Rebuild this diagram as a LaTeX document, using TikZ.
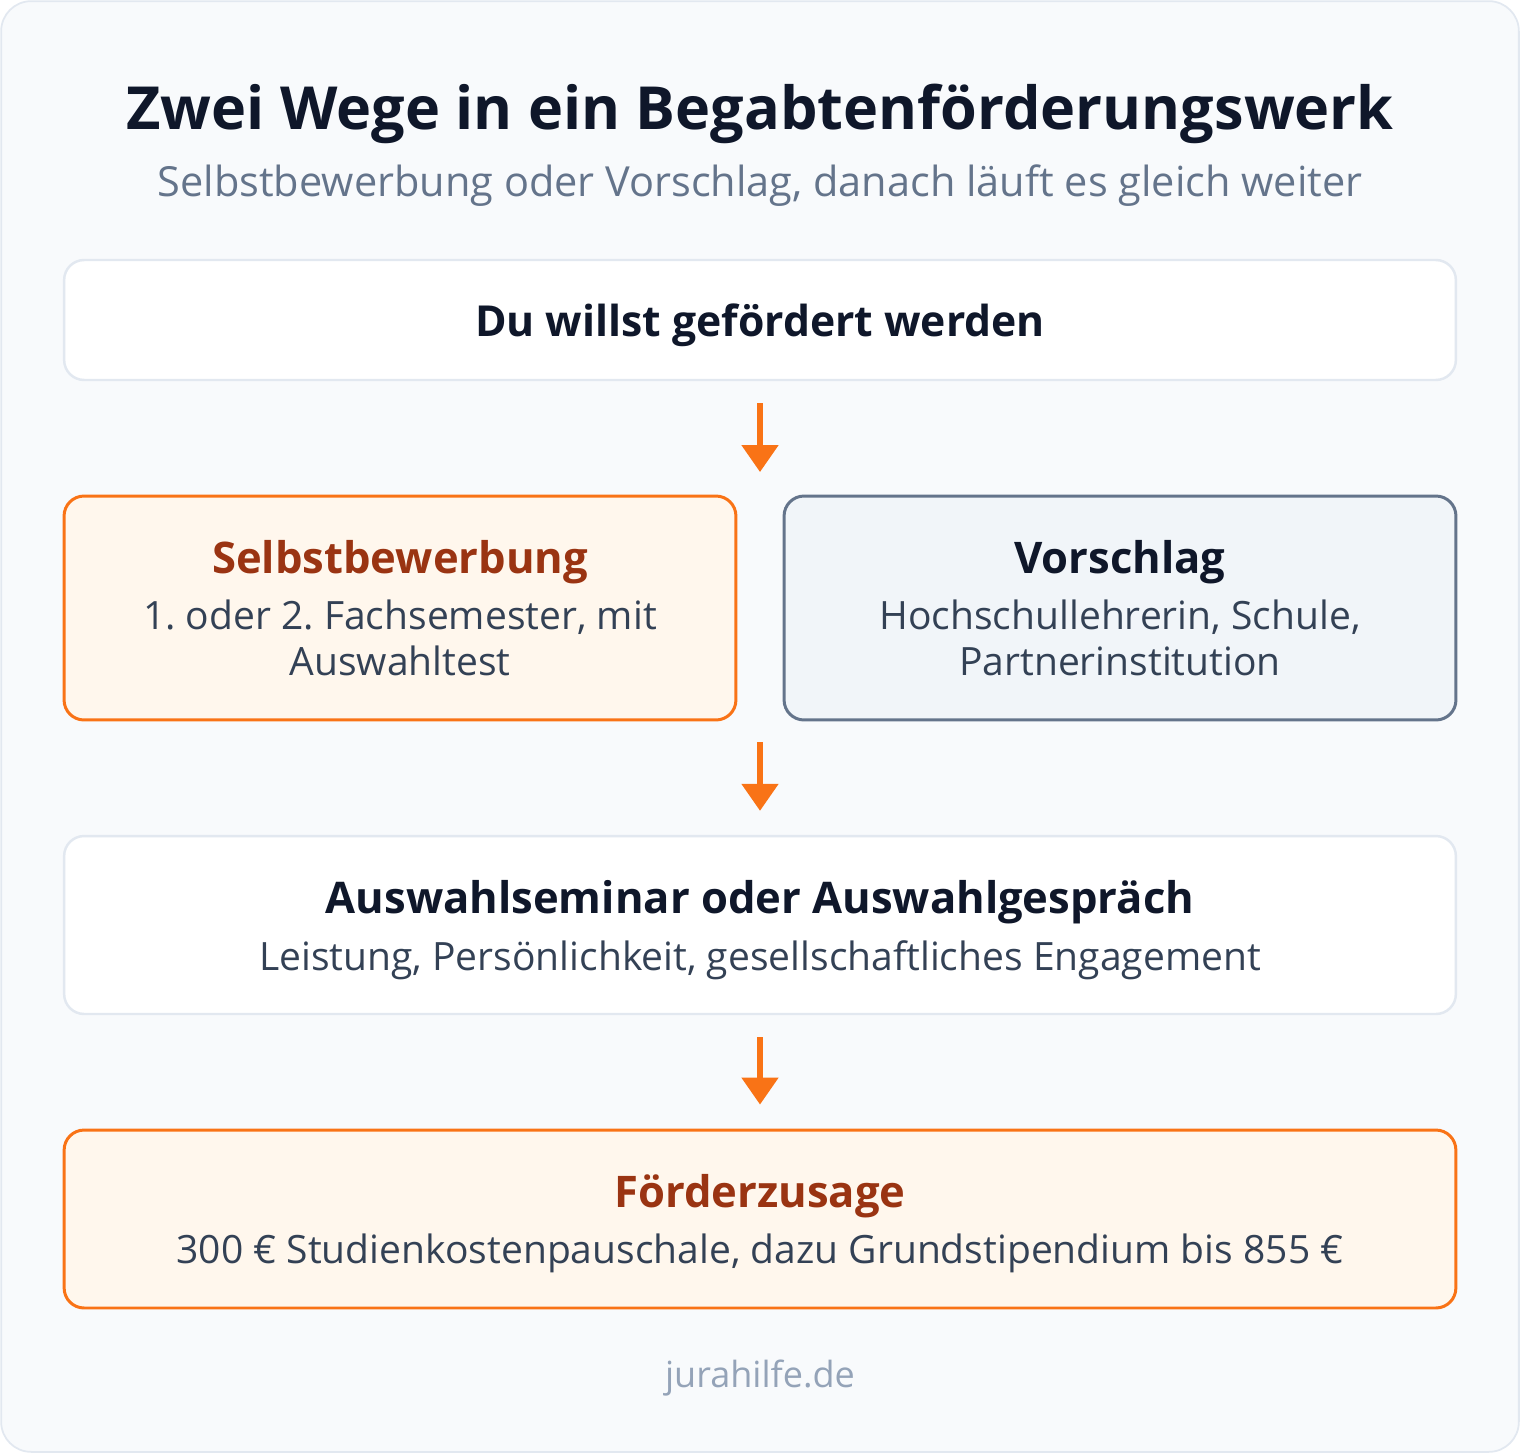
\documentclass[tikz,border=0pt]{standalone}
\usepackage{fontspec}
\setmainfont{Open Sans}
\usetikzlibrary{arrows.meta,positioning}
\usepackage{xcolor}
\frenchspacing

\definecolor{accent}{HTML}{F97316}
\definecolor{accentfill}{HTML}{FFF7ED}
\definecolor{accenttext}{HTML}{9A3412}
\definecolor{slateline}{HTML}{64748B}
\definecolor{slatefill}{HTML}{F1F5F9}
\definecolor{inktext}{HTML}{0F172A}
\definecolor{bodytext}{HTML}{334155}
\definecolor{subtext}{HTML}{64748B}
\definecolor{foottext}{HTML}{94A3B8}
\definecolor{frameline}{HTML}{E2E8F0}
\definecolor{framefill}{HTML}{F8FAFC}

\begin{document}
\begin{tikzpicture}[x=0.02cm, y=-0.02cm,
    box/.style={
        rectangle,
        rounded corners=0.4cm,
        inner sep=0pt,
        draw=frameline,
        fill=white,
        line width=1.4pt
    },
    orangebox/.style={box, draw=accent, fill=accentfill, line width=1.7pt},
    slatebox/.style={box, draw=slateline, fill=slatefill, line width=1.7pt},
    label/.style={anchor=base, inner sep=0pt},
    headline/.style={label, font=\fontsize{24.8}{29}\selectfont\bfseries, text=inktext},
    bodyline/.style={label, font=\fontsize{22.2}{26}\selectfont, text=bodytext},
    flowarrow/.style={-{Triangle[width=0.72cm, length=0.54cm]}, accent, line width=3pt,
        shorten <=0.44cm, shorten >=0.48cm}
]
    \useasboundingbox (0,0) rectangle (1520,1454);

    %frame
    \node (frame) [box, rounded corners=0.6cm, draw=frameline, fill=framefill, line width=1pt,
        minimum width=30.36cm, minimum height=29.02cm, shift={(760,726.5)}] {};

    %title
    \node (title) [label, font=\fontsize{33.8}{40}\selectfont\bfseries, text=inktext, shift={(760,129)}]
    {
        Zwei Wege in ein Begabtenförderungswerk
    };
    \node (subtitle) [label, font=\fontsize{23.6}{28}\selectfont, text=subtext, shift={(760,196)}]
    {
        Selbstbewerbung oder Vorschlag, danach läuft es gleich weiter
    };

    %start
    \node (wish) [box, minimum width=27.84cm, minimum height=2.4cm, shift={(760,320)}] {};
    \node (wish_head) [headline, font=\fontsize{24.3}{29}\selectfont\bfseries, shift={(760,336)}]
    {
        Du willst gefördert werden
    };

    %two ways
    \node (self) [orangebox, minimum width=13.44cm, minimum height=4.48cm, shift={(400,608)}] {};
    \node (self_head) [headline, text=accenttext, shift={(400,573)}]
    {
        Selbstbewerbung
    };
    \node (self_line1) [bodyline, shift={(400,629)}]
    {
        1. oder 2. Fachsemester, mit
    };
    \node (self_line2) [bodyline, shift={(400,675)}]
    {
        Auswahltest
    };

    \node (proposal) [slatebox, minimum width=13.44cm, minimum height=4.48cm, shift={(1120,608)}] {};
    \node (proposal_head) [headline, shift={(1120,573)}]
    {
        Vorschlag
    };
    \node (proposal_line1) [bodyline, shift={(1120,629)}]
    {
        Hochschullehrerin, Schule,
    };
    \node (proposal_line2) [bodyline, shift={(1120,675)}]
    {
        Partnerinstitution
    };

    %selection
    \node (selection) [box, minimum width=27.84cm, minimum height=3.56cm, shift={(760,925)}] {};
    \node (selection_head) [headline, shift={(760,913)}]
    {
        Auswahlseminar oder Auswahlgespräch
    };
    \node (selection_line) [bodyline, shift={(760,970)}]
    {
        Leistung, Persönlichkeit, gesellschaftliches Engagement
    };

    %grant
    \node (grant) [orangebox, minimum width=27.84cm, minimum height=3.56cm, shift={(760,1219)}] {};
    \node (grant_head) [headline, text=accenttext, shift={(760,1207)}]
    {
        Förderzusage
    };
    \node (grant_line) [bodyline, shift={(760,1263)}]
    {
        300 € Studienkostenpauschale, dazu Grundstipendium bis 855 €
    };

    %footer
    \node (footer) [label, font=\fontsize{20.5}{24}\selectfont, text=foottext, shift={(760,1387)}]
    {
        jurahilfe.de
    };

    %arrows
    \coordinate (split) at (760,496);
    \coordinate (join) at (760,720);
    \draw[flowarrow] (wish) to (split);
    \draw[flowarrow] (join) to (selection);
    \draw[flowarrow] (selection) to (grant);

\end{tikzpicture}
\end{document}
